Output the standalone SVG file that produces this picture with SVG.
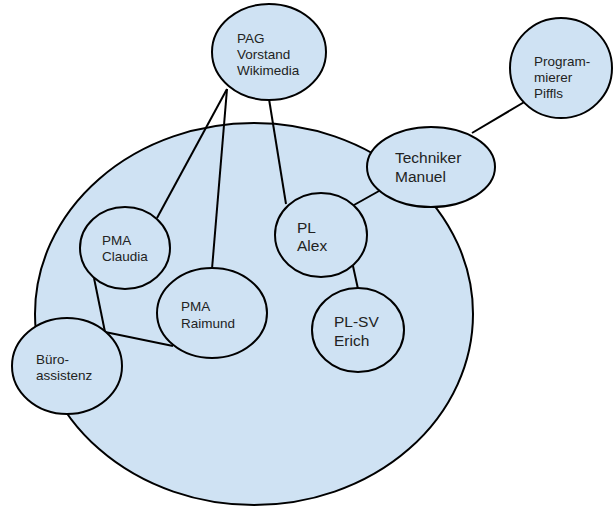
<svg xmlns="http://www.w3.org/2000/svg" width="614" height="507" viewBox="0 0 614 507">
<style>
.n{fill:#cfe2f3;stroke:#000;stroke-width:2}
.c{stroke:#000;stroke-width:2;fill:none}
text{font-family:"Liberation Sans",Arial,sans-serif;fill:#222}
.s{font-size:13.5px}
.l{font-size:15.5px}
</style>
<rect width="614" height="507" fill="#fff"/>
<g id="team"><ellipse class="n" cx="254" cy="314" rx="219" ry="191"/></g>
<g id="connectors">
<line class="c" x1="227" y1="89" x2="157" y2="218"/>
<line class="c" x1="227" y1="89" x2="212" y2="269"/>
<line class="c" x1="269" y1="99" x2="286" y2="204"/>
<line class="c" x1="472" y1="133" x2="526" y2="101"/>
<line class="c" x1="379" y1="191" x2="354" y2="205"/>
<line class="c" x1="353" y1="266" x2="358" y2="289"/>
<line class="c" x1="94" y1="278" x2="105" y2="332"/>
<line class="c" x1="105" y1="332" x2="173" y2="346"/>
</g>
<g id="pag"><ellipse class="n" cx="269" cy="52" rx="57" ry="48"/>
<text class="s" x="237" y="43">PAG</text><text class="s" x="237" y="59">Vorstand</text><text class="s" x="237" y="75">Wikimedia</text></g>
<g id="programmierer"><ellipse class="n" cx="561" cy="68" rx="51" ry="50"/>
<text class="s" x="534" y="66">Program-</text><text class="s" x="534" y="82">mierer</text><text class="s" x="534" y="98">Piffls</text></g>
<g id="techniker"><ellipse class="n" cx="431" cy="167" rx="64" ry="40"/>
<text class="l" x="395" y="163">Techniker</text><text class="l" x="395" y="182">Manuel</text></g>
<g id="pl-alex"><ellipse class="n" cx="321" cy="235" rx="46" ry="42"/>
<text class="l" x="297" y="233">PL</text><text class="l" x="297" y="251">Alex</text></g>
<g id="pma-claudia"><ellipse class="n" cx="125" cy="248" rx="45" ry="41"/>
<text class="s" x="102" y="245">PMA</text><text class="s" x="102" y="261">Claudia</text></g>
<g id="pma-raimund"><ellipse class="n" cx="212" cy="313" rx="55" ry="45"/>
<text class="s" x="181" y="311">PMA</text><text class="s" x="181" y="328">Raimund</text></g>
<g id="plsv-erich"><ellipse class="n" cx="358" cy="330" rx="46" ry="42"/>
<text class="l" x="334" y="327">PL-SV</text><text class="l" x="334" y="346">Erich</text></g>
<g id="buero"><ellipse class="n" cx="67" cy="366" rx="55" ry="48"/>
<text class="s" x="36" y="364">Büro-</text><text class="s" x="36" y="380">assistenz</text></g>
</svg>
